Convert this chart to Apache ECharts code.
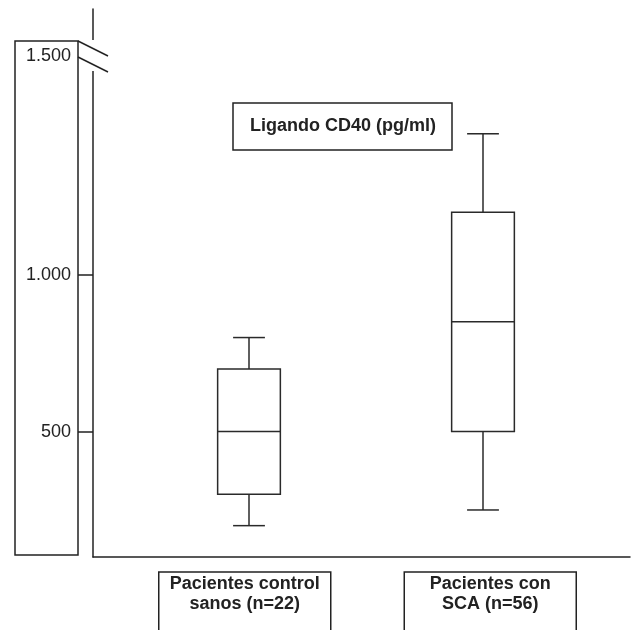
<!DOCTYPE html>
<html><head><meta charset="utf-8">
<script src="https://cdn.jsdelivr.net/npm/echarts@6/dist/echarts.min.js"></script>
<style>html,body{margin:0;padding:0;background:#fff}#c{width:641px;height:630px}</style>
</head><body><div id="c"></div>
<script>
const categories = ['Pacientes control\nsanos (n=22)', 'Pacientes con\nSCA (n=56)'];
const minValues = [200, 250];
const q1Values = [300, 500];
const medianValues = [500, 850];
const q3Values = [700, 1200];
const maxValues = [800, 1450];
const yTickValues = [500, 1000];
const yLabelValues = [500, 1000, 1500];
const yTickLabels = ['500', '1.000', '1.500'];
const chartTitle = 'Ligando CD40 (pg/ml)';

const INK = '#222';
const FONT = 'Liberation Sans';
const yCommon = {
  type: 'value', min: 100, max: 1650,
  breaks: [{ start: 1470, end: 1500, gap: 228 }],
  breakArea: { show: false },
  splitLine: { show: false }
};

const chart = echarts.init(document.getElementById('c'), null, { renderer: 'canvas' });
chart.setOption({
  animation: false,
  backgroundColor: '#fff',
  title: {
    text: chartTitle, left: 233, top: 103, padding: [13, 16, 13, 17],
    borderColor: INK, borderWidth: 1.5,
    textStyle: { fontFamily: FONT, fontSize: 18, fontWeight: 'bold', color: INK, lineHeight: 21 }
  },
  grid: [
    { left: 93, right: 11, top: 9, bottom: 73, containLabel: false, outerBoundsMode: 'none' },
    { left: 132, right: 41, top: 9, bottom: 73, containLabel: false, outerBoundsMode: 'none' },
    { left: 122, right: 28, top: 9, bottom: 73, containLabel: false, outerBoundsMode: 'none' }
  ],
  xAxis: [
    { type: 'category', gridIndex: 0, data: categories,
      axisLine: { show: true, lineStyle: { color: INK, width: 1.5 } },
      axisTick: { show: false }, axisLabel: { show: false } },
    { type: 'category', gridIndex: 1, data: categories,
      axisLine: { show: false }, axisTick: { show: false }, axisLabel: { show: false } },
    { type: 'category', gridIndex: 2, data: categories,
      axisLine: { show: false }, axisTick: { show: false },
      axisLabel: {
        show: true, margin: 15, fontFamily: FONT, fontSize: 18, fontWeight: 'bold',
        color: INK, lineHeight: 20, width: 164, align: 'center',
        borderColor: INK, borderWidth: 1.5, padding: [2, 4, 40, 4], verticalAlign: 'top'
      } }
  ],
  yAxis: [
    Object.assign({}, yCommon, {
      gridIndex: 0,
      axisLine: { show: false },
      axisTick: { show: true, length: 15, customValues: yTickValues, lineStyle: { color: INK, width: 1.5 } },
      axisLabel: {
        show: true, margin: 22, customValues: yLabelValues, fontFamily: FONT, fontSize: 18, color: INK,
        formatter: v => yTickLabels[yLabelValues.indexOf(v)]
      }
    }),
    Object.assign({}, yCommon, { gridIndex: 1, show: false }),
    Object.assign({}, yCommon, { gridIndex: 2, show: false }),
    { type: 'value', gridIndex: 0, position: 'left', offset: 0, min: 0, max: 1,
      axisLine: { show: true, lineStyle: { color: INK, width: 1.5 } },
      axisTick: { show: false }, axisLabel: { show: false }, splitLine: { show: false } }
  ],
  series: [{
    type: 'custom', xAxisIndex: 1, yAxisIndex: 1,
    data: categories.map((c, i) => [i, minValues[i], q1Values[i], medianValues[i], q3Values[i], maxValues[i]]),
    encode: { x: 0, y: [1, 2, 3, 4, 5] },
    renderItem: function (params, api) {
      const i = api.value(0);
      const band = api.size([1, 0])[0];
      const hw = band * 0.134, cw = band * 0.068;
      const pMin = api.coord([i, api.value(1)]);
      const pQ1 = api.coord([i, api.value(2)]);
      const pMed = api.coord([i, api.value(3)]);
      const pQ3 = api.coord([i, api.value(4)]);
      const pMax = api.coord([i, api.value(5)]);
      const cx = pMin[0];
      const st = { stroke: '#2a2a2a', lineWidth: 1.5, fill: 'none' };
      const ln = (x1, y1, x2, y2) => ({ type: 'line', shape: { x1, y1, x2, y2 }, style: st });
      return { type: 'group', children: [
        { type: 'rect', shape: { x: cx - hw, y: pQ3[1], width: 2 * hw, height: pQ1[1] - pQ3[1] }, style: st },
        ln(cx - hw, pMed[1], cx + hw, pMed[1]),
        ln(cx, pQ3[1], cx, pMax[1]),
        ln(cx - cw, pMax[1], cx + cw, pMax[1]),
        ln(cx, pQ1[1], cx, pMin[1]),
        ln(cx - cw, pMin[1], cx + cw, pMin[1])
      ]};
    }
  }],
  graphic: [
    { type: 'rect', z: 100, shape: { x: 15, y: 41, width: 63, height: 514 },
      style: { fill: 'none', stroke: INK, lineWidth: 1.5 } },
    { type: 'rect', z: 100, shape: { x: 88, y: 40, width: 10, height: 31 },
      style: { fill: '#fff', stroke: null } },
    { type: 'line', z: 101, shape: { x1: 78, y1: 41, x2: 108, y2: 56 },
      style: { stroke: INK, lineWidth: 1.5 } },
    { type: 'line', z: 101, shape: { x1: 78, y1: 57, x2: 108, y2: 72 },
      style: { stroke: INK, lineWidth: 1.5 } }
  ]
});
</script></body></html>
